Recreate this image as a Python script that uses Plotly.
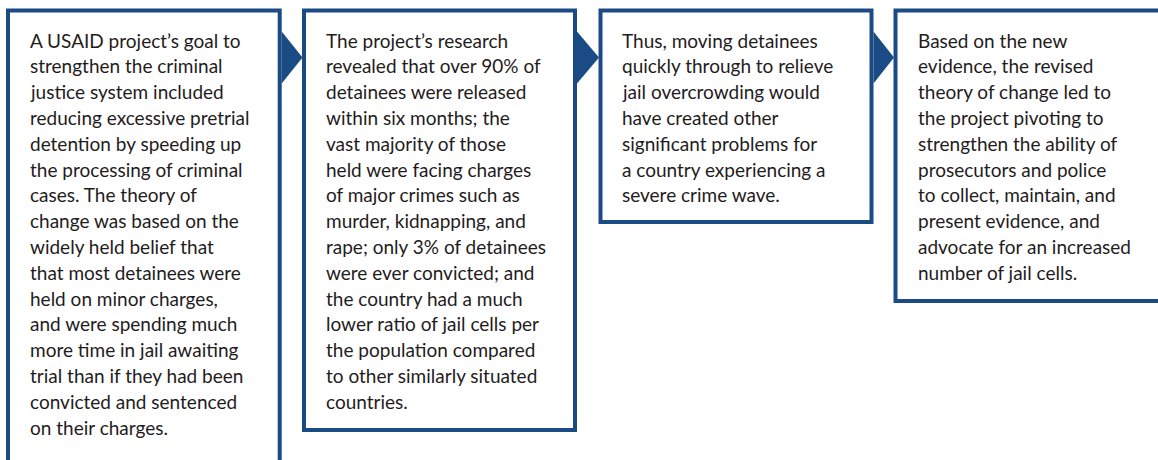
import plotly.graph_objects as go

# ---- content ----
box1_lines = [
    "A USAID project’s goal to",
    "strengthen the criminal",
    "justice system included",
    "reducing excessive pretrial",
    "detention by speeding up",
    "the processing of criminal",
    "cases. The theory of",
    "change was based on the",
    "widely held belief that",
    "that most detainees were",
    "held on minor charges,",
    "and were spending much",
    "more time in jail awaiting",
    "trial than if they had been",
    "convicted and sentenced",
    "on their charges.",
]
box2_lines = [
    "The project’s research",
    "revealed that over 90% of",
    "detainees were released",
    "within six months; the",
    "vast majority of those",
    "held were facing charges",
    "of major crimes such as",
    "murder, kidnapping, and",
    "rape; only 3% of detainees",
    "were ever convicted; and",
    "the country had a much",
    "lower ratio of jail cells per",
    "the population compared",
    "to other similarly situated",
    "countries.",
]
box3_lines = [
    "Thus, moving detainees",
    "quickly through to relieve",
    "jail overcrowding would",
    "have created other",
    "significant problems for",
    "a country experiencing a",
    "severe crime wave.",
]
box4_lines = [
    "Based on the new",
    "evidence, the revised",
    "theory of change led to",
    "the project pivoting to",
    "strengthen the ability of",
    "prosecutors and police",
    "to collect, maintain, and",
    "present evidence, and",
    "advocate for an increased",
    "number of jail cells.",
]

# ---- layout geometry (pixels) ----
W, H = 1158, 460
NAVY = "#1b4b84"
TEXT = "#1f1c1d"
FONT = "Lato"
FSIZE = 19
LINE_H = 25.8
FIRST_Y = 40

# box edges: (left, right, top, bottom)
boxes = [
    (8.0, 279.7, 10.5, 490.0),
    (304.0, 575.0, 10.5, 430.0),
    (600.5, 871.5, 10.5, 222.0),
    (895.5, 1190.0, 10.5, 301.0),
]
texts = [box1_lines, box2_lines, box3_lines, box4_lines]
text_x = [28, 324, 620, 916]
BW = 4

fig = go.Figure()
fig.add_trace(go.Scatter(x=[0], y=[0], mode="markers", marker=dict(opacity=0), hoverinfo="skip", showlegend=False))

shapes = []
for (l, r, t, b) in boxes:
    shapes.append(dict(type="rect", xref="x", yref="y", x0=l, x1=r, y0=t, y1=b,
                       line=dict(color=NAVY, width=BW), fillcolor="white", layer="above"))
# arrows between boxes
for i in range(len(boxes) - 1):
    base = boxes[i][1] + BW / 2
    tip = boxes[i + 1][0] - BW / 2 + 0.5
    shapes.append(dict(type="path", xref="x", yref="y",
                       path=f"M {base},31.5 L {tip},57.5 L {base},83.5 Z",
                       fillcolor=NAVY, line=dict(width=0), layer="above"))

annotations = []
for lines, tx in zip(texts, text_x):
    for j, s in enumerate(lines):
        annotations.append(dict(x=tx, y=FIRST_Y + j * LINE_H, xref="x", yref="y",
                                text=s, showarrow=False, xanchor="left", yanchor="middle",
                                font=dict(family=FONT, size=FSIZE, color=TEXT)))

fig.update_layout(
    width=W, height=H, margin=dict(l=0, r=0, t=0, b=0),
    paper_bgcolor="white", plot_bgcolor="white",
    xaxis=dict(range=[0, W], visible=False, fixedrange=True),
    yaxis=dict(range=[H, 0], visible=False, fixedrange=True),
    shapes=shapes, annotations=annotations, showlegend=False,
)

fig.write_html("out.html", config={"displayModeBar": False},
               post_script="document.body.style.margin='0';document.body.style.overflow='hidden';")
